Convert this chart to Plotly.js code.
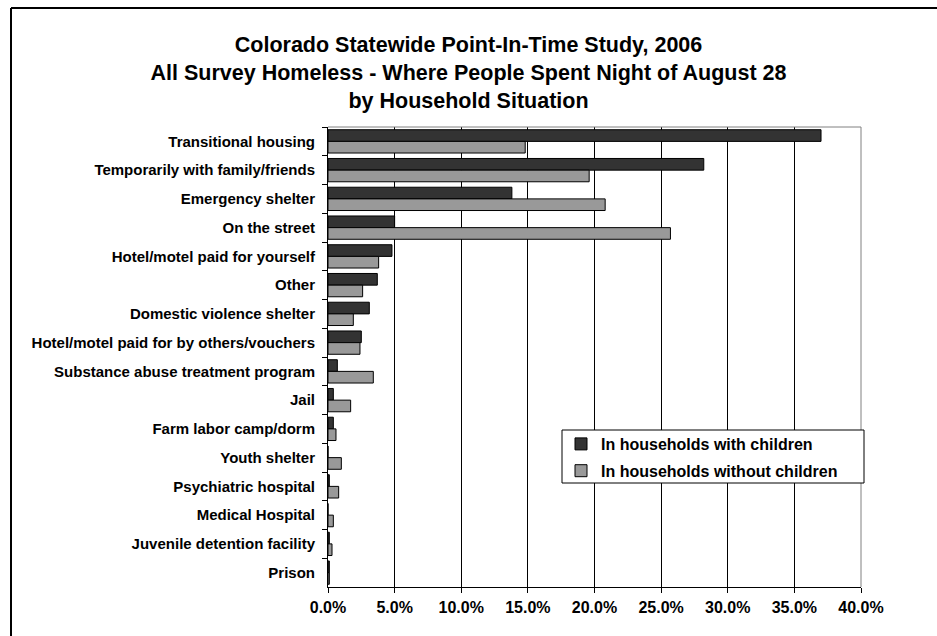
<!DOCTYPE html>
<html>
<head>
<meta charset="utf-8">
<script src="https://cdn.plot.ly/plotly-3.0.1.min.js"></script>
<style>
  html, body { margin: 0; padding: 0; background: #ffffff; }
  #chart { width: 937px; height: 636px; }
</style>
</head>
<body>
<div id="chart"></div>
<script>
// Where people spent the night, by household situation (percent of respondents)
var categories = [
  "Transitional housing",
  "Temporarily with family/friends",
  "Emergency shelter",
  "On the street",
  "Hotel/motel paid for yourself",
  "Other",
  "Domestic violence shelter",
  "Hotel/motel paid for by others/vouchers",
  "Substance abuse treatment program",
  "Jail",
  "Farm labor camp/dorm",
  "Youth shelter",
  "Psychiatric hospital",
  "Medical Hospital",
  "Juvenile detention facility",
  "Prison"
];

var withChildren = [37.0, 28.2, 13.8, 5.0, 4.8, 3.7, 3.1, 2.5, 0.7, 0.4, 0.4, 0.0, 0.1, 0.0, 0.1, 0.1];
var withoutChildren = [14.8, 19.6, 20.8, 25.7, 3.8, 2.6, 1.9, 2.4, 3.4, 1.7, 0.6, 1.0, 0.8, 0.4, 0.3, 0.1];

var seriesNames = ["In households with children", "In households without children"];

var titleLines = [
  "Colorado Statewide Point-In-Time Study, 2006",
  "All Survey Homeless - Where People Spent Night of August 28",
  "by Household Situation"
];

var FONT = "Liberation Sans, Arial, Helvetica, sans-serif";

// plot area in pixels
var W = 937, H = 636;
var plotL = 328, plotR = 861, plotT = 127, plotB = 587;
var pw = plotR - plotL, ph = plotB - plotT;
function px2x(p) { return (p - plotL) / pw; }
function px2y(p) { return (plotB - p) / ph; }

var traces = [
  {
    type: "bar", orientation: "h",
    name: seriesNames[0], legendgroup: "with",
    y: categories, x: withChildren,
    marker: { color: "#333333", line: { color: "#000000", width: 1 } },
    hoverinfo: "y+x"
  },
  {
    type: "bar", orientation: "h",
    name: seriesNames[1], legendgroup: "without",
    y: categories, x: withoutChildren,
    marker: { color: "#999999", line: { color: "#000000", width: 1 } },
    hoverinfo: "y+x"
  }
];

var layout = {
  width: W, height: H,
  margin: { l: plotL, r: W - plotR, t: plotT, b: H - plotB, pad: 0 },
  paper_bgcolor: "#ffffff",
  plot_bgcolor: "#ffffff",
  font: { family: FONT, color: "#000000", size: 14 },
  barmode: "group",
  bargap: 0.19,
  bargroupgap: 0,
  showlegend: true,
  title: {
    text: titleLines.join("<br>"),
    font: { family: FONT, size: 21.5, weight: "bold", color: "#000000" },
    x: 0.5, xref: "container", xanchor: "center",
    y: 1 - 52 / H, yref: "container", yanchor: "top"
  },
  xaxis: {
    range: [0, 40],
    dtick: 5,
    tick0: 0,
    tickformat: ".1f",
    ticksuffix: "%",
    showgrid: true,
    gridcolor: "#000000",
    gridwidth: 1,
    zeroline: false,
    showline: true,
    linecolor: "#000000",
    linewidth: 1,
    ticks: "outside",
    ticklen: 5,
    tickcolor: "#000000",
    tickfont: { family: FONT, size: 16, weight: "bold", color: "#000000" },
    ticklabelstandoff: 1,
    fixedrange: true
  },
  yaxis: {
    type: "category",
    autorange: "reversed",
    showgrid: false,
    zeroline: false,
    showline: true,
    linecolor: "#000000",
    linewidth: 1,
    ticks: "outside",
    tickson: "boundaries",
    ticklen: 5,
    tickcolor: "#000000",
    tickfont: { family: FONT, size: 15, weight: "bold", color: "#000000" },
    ticklabelstandoff: 9,
    fixedrange: true
  },
  legend: {
    x: px2x(561), y: px2y(427),
    xanchor: "left", yanchor: "top",
    bgcolor: "rgba(0,0,0,0)",
    borderwidth: 0,
    font: { family: FONT, size: 16, weight: "bold", color: "#000000" },
    traceorder: "grouped",
    tracegroupgap: 3,
    itemwidth: 30
  },
  shapes: [
    // grey plot-area border on the top and right
    { type: "line", xref: "paper", yref: "paper", x0: 0, x1: 1, y0: 1, y1: 1,
      line: { color: "#808080", width: 1 }, layer: "above" },
    { type: "line", xref: "paper", yref: "paper", x0: 1, x1: 1, y0: 0, y1: 1,
      line: { color: "#808080", width: 1 }, layer: "above" },
    // legend box
    { type: "rect", xref: "paper", yref: "paper",
      x0: px2x(562), x1: px2x(864), y0: px2y(483), y1: px2y(430),
      fillcolor: "#ffffff", line: { color: "#000000", width: 1 }, layer: "above" },
    // outer chart frame
    { type: "line", xref: "paper", yref: "paper",
      x0: px2x(11), x1: px2x(W + 20), y0: px2y(8), y1: px2y(8),
      line: { color: "#000000", width: 2 } },
    { type: "line", xref: "paper", yref: "paper",
      x0: px2x(11), x1: px2x(11), y0: px2y(8), y1: px2y(H + 20),
      line: { color: "#000000", width: 2 } }
  ]
};

Plotly.newPlot("chart", traces, layout, { displayModeBar: false, staticPlot: true });
</script>
</body>
</html>
